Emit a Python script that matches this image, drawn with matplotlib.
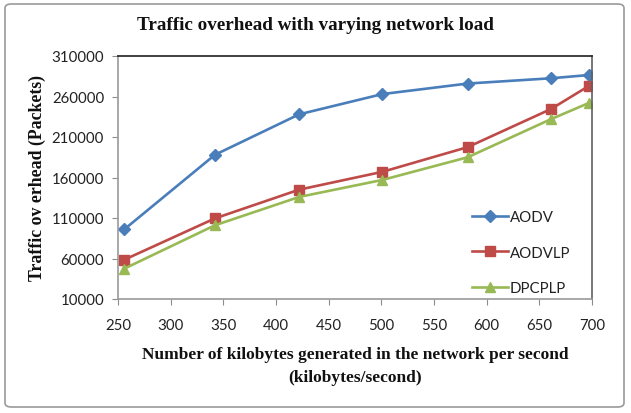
import matplotlib
matplotlib.use("Agg")
import matplotlib.pyplot as plt
from matplotlib.patches import FancyBboxPatch

# values
load = [256, 342, 422, 501, 582, 661, 697]
aodv = [96000, 188000, 238000, 263000, 276000, 282500, 286500]
aodvlp = [58500, 109500, 145000, 167000, 197500, 244500, 273000]
dpcplp = [47500, 101000, 136000, 157000, 185000, 232000, 252000]

xticks = list(range(250, 701, 50))
yticks = list(range(10000, 310001, 50000))

serif = 'Liberation Serif'
sans = 'Lato'

fig = plt.figure(figsize=(6.31, 4.14), dpi=100)
ax = fig.add_axes([118/631, 1-300/414, (592-118)/631, (300-57)/414])

# rounded chart border like the spreadsheet frame
frame = FancyBboxPatch((5/631, 6/414), 619/631, 403/414, boxstyle="round,pad=0,rounding_size=0.01",
                       transform=fig.transFigure, fill=False, edgecolor='#9a9a9a', linewidth=1.2)
fig.patches.append(frame)

ax.plot(load, aodv, color='#4A7EBB', linewidth=1.9, marker='D', markersize=6, label='AODV')
ax.plot(load, aodvlp, color='#BE4B48', linewidth=1.9, marker='s', markersize=7, label='AODVLP')
ax.plot(load, dpcplp, color='#98B954', linewidth=1.9, marker='^', markersize=7, label='DPCPLP')

ax.set_xlim(250, 700)
ax.set_ylim(10000, 310000)
ax.set_xticks(xticks)
ax.set_yticks(yticks)
ax.tick_params(axis='both', direction='out', length=4, color='#8c8c8c', labelsize=10.8, labelcolor='#222222')
ax.tick_params(axis='x', pad=10)
ax.tick_params(axis='y', pad=6)
for lab in ax.get_xticklabels() + ax.get_yticklabels():
    lab.set_family(sans)

ax.spines['top'].set_color('#202020')
ax.spines['right'].set_color('#606060')
ax.spines['left'].set_color('#9a9a9a')
ax.spines['bottom'].set_color('#9a9a9a')
for s in ax.spines.values():
    s.set_linewidth(1.2)

fig.text(315/631, 1-25/414, 'Traffic overhead with varying network load', family=serif,
         fontweight='bold', fontsize=13.8, color='#111111', ha='center', va='center')
ax.set_ylabel('Traffic ov erhead (Packets)', family=serif, fontweight='bold', fontsize=12.8,
              labelpad=4, color='#111111')
ax.set_xlabel('Number of kilobytes generated in the network per second\n(kilobytes/second)',
              family=serif, fontweight='bold', fontsize=12.5, labelpad=10, linespacing=1.55,
              color='#111111')

ax.legend(loc='lower left', bbox_to_anchor=(0.735, -0.01), frameon=False,
          prop={'family': sans, 'size': 10.8}, handlelength=2.4, handletextpad=0.1,
          labelspacing=1.45, borderaxespad=0, labelcolor='#222222')

fig.savefig('out.png', dpi=100)
